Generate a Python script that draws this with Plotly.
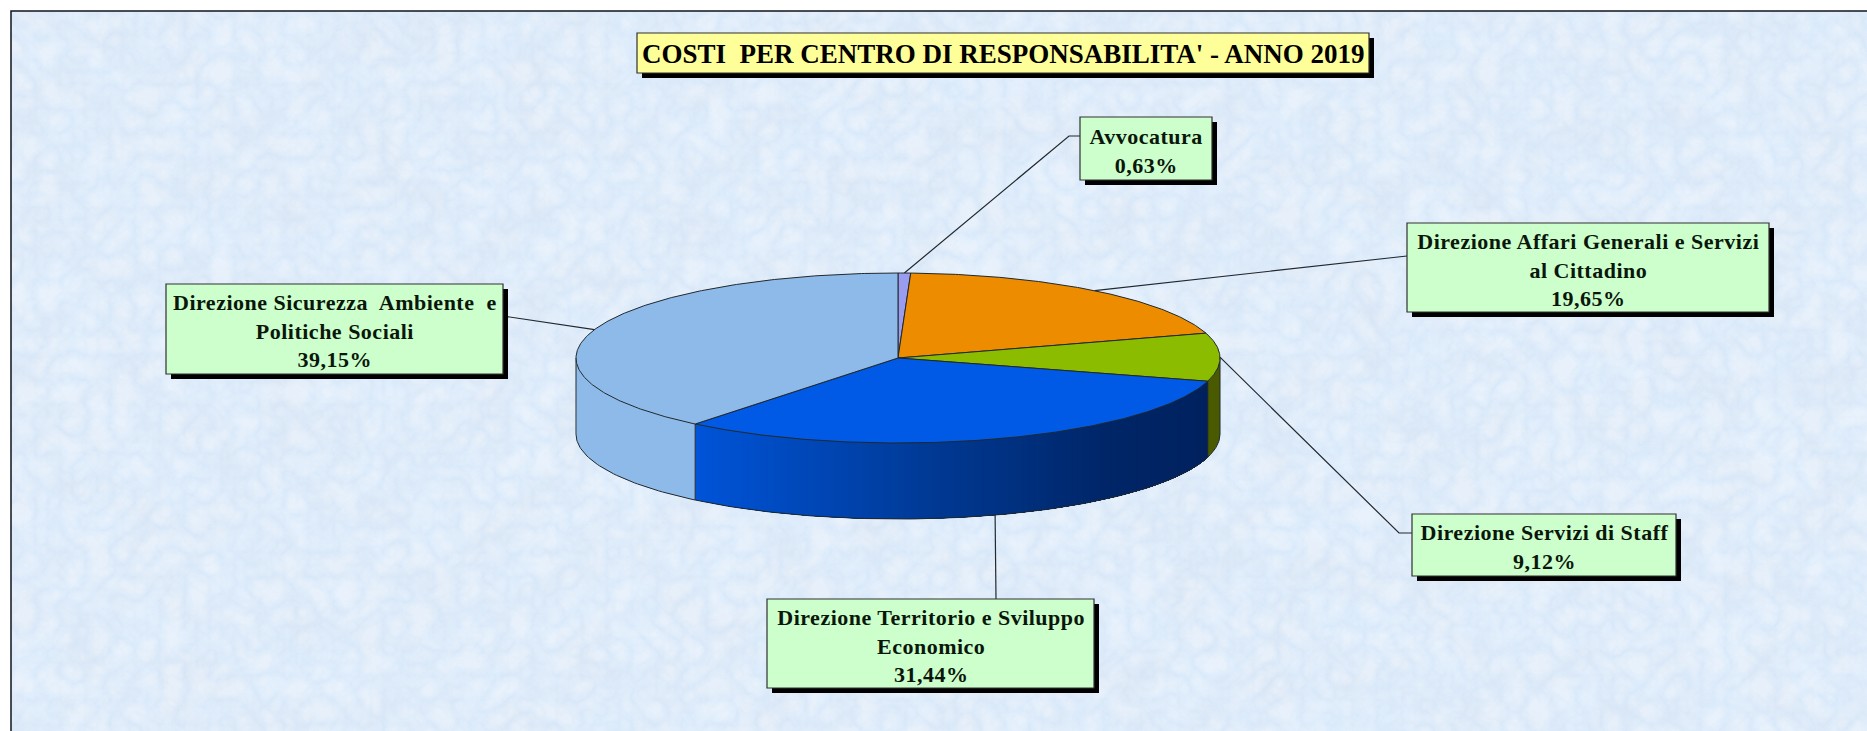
import base64
import numpy as np
import plotly.graph_objects as go

# ---- data ----
categories = ["Avvocatura", "Direzione Affari Generali e Servizi", "Direzione Servizi di Staff",
              "Direzione Territorio e Sviluppo Economico", "Direzione Sicurezza Ambiente e Politiche Sociali"]
values = [0.63, 19.65, 9.12, 31.44, 39.15]
value_labels = ["0,63%", "19,65%", "9,12%", "31,44%", "39,15%"]
label_lines = [
    ["Avvocatura"],
    ["Direzione Affari Generali e Servizi", "al Cittadino"],
    ["Direzione Servizi di Staff"],
    ["Direzione Territorio e Sviluppo", "Economico"],
    ["Direzione Sicurezza\u00a0 Ambiente\u00a0 e", "Politiche Sociali"],
]
title_text = "COSTI\u00a0 PER CENTRO DI RESPONSABILITA' - ANNO 2019"

# ---- layout / style ----
W, H = 1867, 731
CX, CY, RX, RY, DEPTH = 898, 358, 322, 85, 76
top_colors = ["#9a9cf0", "#ee8c00", "#8cbc00", "#005ae6", "#8ebaea"]
wall_colors = [None, None, "#4a5a00", None, "#8ebaea"]
wall_grad_stops = [(0.0, (0, 84, 217)), (0.45, (0, 58, 150)), (0.8, (0, 38, 104)), (1.0, (0, 33, 94))]
EDGE = "#20282c"
boxes = [  # x0, y0, x1, y1
    (1080, 117, 1212, 180),
    (1407, 223, 1769, 312),
    (1412, 514, 1676, 576),
    (767, 599, 1094, 688),
    (166, 284, 503, 374),
]
title_box = (637, 33, 1369, 73)
SHADOW = 5
TEXT_DROP = 2
elbows = [(1069, 136), (1392, 257), (1399, 533), None, None]
box_ends = [(1080, 136), (1407, 256), (1412, 533), (996, 599), (503, 316)]
FONT = "Liberation Serif"


def ell(deg, dy=0.0):
    a = np.radians(deg)
    return CX + RX * np.sin(a), CY - RY * np.cos(a) + dy


fracs = np.cumsum([0] + values) / np.sum(values) * 360.0
fracs[-1] = 360.0

fig = go.Figure()


def poly(xs, ys, color, line=None, lw=0.0):
    fig.add_trace(go.Scatter(x=xs, y=ys, mode="lines", fill="toself", fillcolor=color,
                             line=dict(color=line or color, width=lw), hoverinfo="skip", showlegend=False))


def lines(xs, ys, color=EDGE, lw=1.0):
    fig.add_trace(go.Scatter(x=xs, y=ys, mode="lines", line=dict(color=color, width=lw),
                             hoverinfo="skip", showlegend=False))


def wall(a0, a1, color, lw=0.0):
    t = np.linspace(a0, a1, max(int(abs(a1 - a0)) + 2, 3))
    x, y = ell(t)
    x2, y2 = ell(t[::-1], DEPTH)
    poly(np.r_[x, x2], np.r_[y, y2], color, lw=lw)


def grad_color(u):
    for (p0, c0), (p1, c1) in zip(wall_grad_stops, wall_grad_stops[1:]):
        if u <= p1:
            k = (u - p0) / (p1 - p0)
            return "rgb(%d,%d,%d)" % tuple(int(round(a + (b - a) * k)) for a, b in zip(c0, c1))
    return "rgb(%d,%d,%d)" % wall_grad_stops[-1][1]


# leader lines (below the pie)
for i, elbow in enumerate(elbows):
    mid = (fracs[i] + fracs[i + 1]) / 2
    dy = DEPTH if 120 < mid < 240 else 0
    sx, sy = ell(mid, dy)
    pts = [(float(sx), float(sy))] + ([elbow] if elbow else []) + [box_ends[i]]
    lines([p[0] for p in pts], [p[1] for p in pts], color="#202830", lw=1.2)

# side walls, front half only
for i in range(len(values)):
    a0, a1 = max(fracs[i], 90), min(fracs[i + 1], 270)
    if a1 <= a0:
        continue
    if wall_colors[i]:
        wall(a0, a1, wall_colors[i])
    else:
        # shaded wall: each layer covers what is left of the slice, left (light) to right (dark)
        edges = np.linspace(a1, a0, 91)
        x_left, x_right = ell(a1)[0], ell(a0)[0]
        for e0, e1 in zip(edges[:-1], edges[1:]):
            xm = ell((e0 + e1) / 2)[0]
            wall(a0, e0, grad_color((xm - x_left) / (x_right - x_left)))

# wall outlines
for a in fracs:
    if 90 <= a <= 270:
        x0, y0 = ell(a)
        lines([x0, x0], [y0, y0 + DEPTH])
xl, yl = ell(90)
lines([xl, xl], [yl, yl + DEPTH])
xl, yl = ell(270)
lines([xl, xl], [yl, yl + DEPTH])
t = np.linspace(90, 270, 181)
bx, by = ell(t, DEPTH)
lines(bx, by)

# top face
for i in range(len(values)):
    t = np.linspace(fracs[i], fracs[i + 1], max(int(fracs[i + 1] - fracs[i]) * 2 + 2, 3))
    x, y = ell(t)
    poly(np.r_[CX, x, CX], np.r_[CY, y, CY], top_colors[i], line=EDGE, lw=1.0)

# label boxes
shapes = [dict(type="rect", xref="x", yref="y", x0=11, y0=11, x1=W + 5, y1=H + 5,
               line=dict(color="#10141c", width=1.5), fillcolor="rgba(0,0,0,0)", layer="above")]
annotations = []
for b, fill in [(title_box, "#ffff99")] + [(bx_, "#ccffcc") for bx_ in boxes]:
    shapes.append(dict(type="rect", xref="x", yref="y", x0=b[0] + SHADOW, y0=b[1] + SHADOW, x1=b[2] + SHADOW,
                       y1=b[3] + SHADOW, fillcolor="#000000", line=dict(width=0), layer="above"))
    shapes.append(dict(type="rect", xref="x", yref="y", x0=b[0], y0=b[1], x1=b[2], y1=b[3],
                       fillcolor=fill, line=dict(color="#303030", width=1.2), layer="above"))

annotations.append(dict(x=(title_box[0] + title_box[2]) / 2, y=(title_box[1] + title_box[3]) / 2 + 1, xref="x", yref="y",
                        text=title_text, showarrow=False, xanchor="center", yanchor="middle",
                        font=dict(family=FONT, size=27, color="#000000", weight=700)))
for b, ll, v in zip(boxes, label_lines, value_labels):
    annotations.append(dict(x=(b[0] + b[2]) / 2, y=(b[1] + b[3]) / 2 + TEXT_DROP, xref="x", yref="y",
                            text="<br>".join(ll + [v]), showarrow=False, xanchor="center", yanchor="middle",
                            align="center", font=dict(family=FONT, size=22, color="#0a160a", weight=700)))

# paper texture as an SVG turbulence filter
svg = f"""<svg xmlns='http://www.w3.org/2000/svg' width='{W}' height='{H}'>
<filter id='a' x='0' y='0' width='100%' height='100%'><feTurbulence type='fractalNoise' baseFrequency='0.02' numOctaves='5' seed='7'/>
<feColorMatrix type='matrix' values='0 0 0 0 0.68  0 0 0 0 0.78  0 0 0 0 0.91  1.9 0 0 0 -0.68'/><feGaussianBlur stdDeviation='1.2'/></filter>
<filter id='b' x='0' y='0' width='100%' height='100%'><feTurbulence type='turbulence' baseFrequency='0.04' numOctaves='4' seed='11'/>
<feColorMatrix type='matrix' values='0 0 0 0 1  0 0 0 0 1  0 0 0 0 1  0 0 1.6 0 -0.05'/><feGaussianBlur stdDeviation='0.8'/></filter>
<rect width='100%' height='100%' fill='#d9e9fa'/>
<rect width='100%' height='100%' filter='url(#a)'/>
<rect width='100%' height='100%' filter='url(#b)' opacity='0.4'/></svg>"""
src = "data:image/svg+xml;base64," + base64.b64encode(svg.encode()).decode()

fig.update_layout(
    width=W, height=H, margin=dict(l=0, r=0, t=0, b=0), paper_bgcolor="#ffffff", plot_bgcolor="rgba(0,0,0,0)",
    xaxis=dict(range=[0, W], visible=False, fixedrange=True),
    yaxis=dict(range=[H, 0], visible=False, fixedrange=True),
    shapes=shapes, annotations=annotations, showlegend=False,
    images=[dict(source=src, xref="x", yref="y", x=11, y=11, sizex=W - 11, sizey=H - 11, xanchor="left",
                 yanchor="top", sizing="stretch", layer="below")],
)
post = """
document.body.style.margin='0';
document.documentElement.style.overflow='hidden';
document.querySelectorAll('.annotation-text').forEach(function(t,i){ if(i>0){t.style.letterSpacing='0.5px';} });
"""
fig.write_html("out.html", config=dict(displayModeBar=False), post_script=post)
